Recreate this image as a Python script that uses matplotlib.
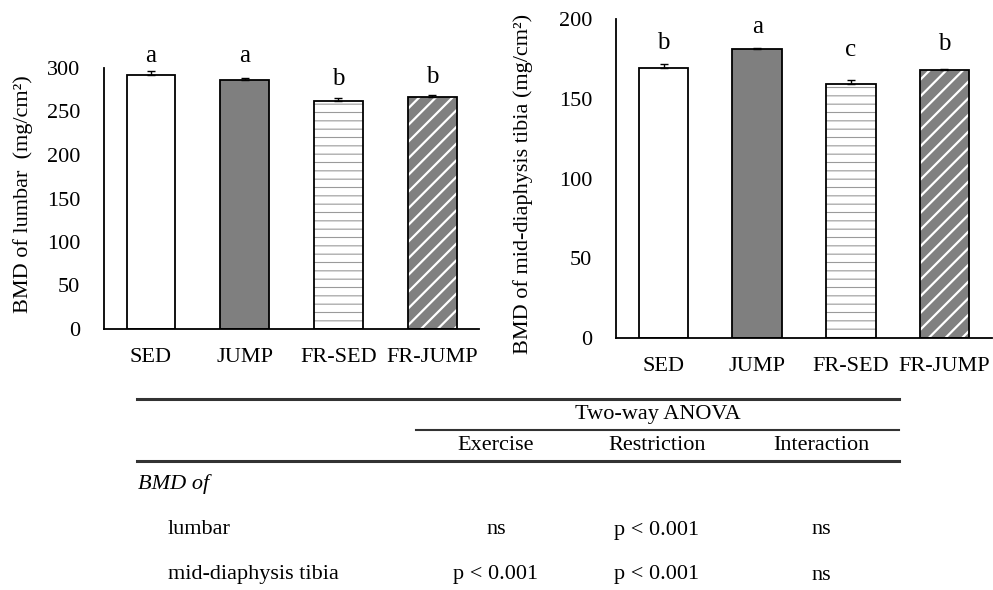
import matplotlib
matplotlib.use("Agg")
import matplotlib.pyplot as plt
from matplotlib.lines import Line2D

# ---------------- data ----------------
groups = ["SED", "JUMP", "FR-SED", "FR-JUMP"]

lumbar_mean = [292, 286, 262, 267]
lumbar_err = [4, 3, 4, 2]
lumbar_letters = ["a", "a", "b", "b"]
lumbar_letter_y = [307, 307, 280, 283]
lumbar_ticks = [0, 50, 100, 150, 200, 250, 300]

tibia_mean = [169, 181, 159, 168]
tibia_err = [2.5, 1, 3, 0.5]
tibia_letters = ["b", "a", "c", "b"]
tibia_letter_y = [181.5, 191, 177, 180.5]
tibia_ticks = [0, 50, 100, 150, 200]

table_title = "Two-way ANOVA"
table_cols = ["Exercise", "Restriction", "Interaction"]
table_group = "BMD of"
table_rows = ["lumbar", "mid-diaphysis tibia"]
table_lumbar = ["ns", "p < 0.001", "ns"]
table_tibia = ["p < 0.001", "p < 0.001", "ns"]

# ---------------- style ----------------
plt.rcParams['font.family'] = ['Liberation Serif', 'DejaVu Serif']
W, H = 993, 590
fig = plt.figure(figsize=(W / 100, H / 100), dpi=100)


def fx(px):
    return px / W


def fy(py):
    return 1 - py / H


FS = 16
face_styles = [
    dict(face="white", hatch=None, hcol=None, hlw=None),
    dict(face="#7f7f7f", hatch=None, hcol=None, hlw=None),
    dict(face="white", hatch="--", hcol="#9a9a9a", hlw=0.8),
    dict(face="#808080", hatch="//", hcol="white", hlw=1.6),
]


def draw_panel(ax, means, errs, letters, letter_y, ticks, ymax, width):
    x = list(range(len(groups)))
    for i in x:
        st = face_styles[i]
        if st["hatch"]:
            with plt.rc_context({'hatch.linewidth': st["hlw"]}):
                b = ax.bar(i, means[i], width=width, color=st["face"],
                           edgecolor=st["hcol"], hatch=st["hatch"],
                           linewidth=0, zorder=2)
                for p in b.patches:
                    if hasattr(p, "set_hatch_linewidth"):
                        p.set_hatch_linewidth(st["hlw"])
        else:
            ax.bar(i, means[i], width=width, color=st["face"], linewidth=0,
                   zorder=2)
        ax.bar(i, means[i], width=width, fill=False, edgecolor="black",
               linewidth=1.3, zorder=3)
    ax.errorbar(x, means, yerr=[[0] * len(errs), errs], fmt="none",
                ecolor="black", elinewidth=1.0, capsize=3, capthick=1.0,
                zorder=4)
    for i in x:
        ax.text(i, letter_y[i], letters[i], ha="center", va="baseline",
                fontsize=18, zorder=5)
    ax.set_xlim(-0.5, len(groups) - 0.5)
    ax.set_ylim(0, ymax)
    ax.set_yticks(ticks)
    ax.set_xticks(x)
    ax.set_xticklabels(groups)
    for s in ["top", "right"]:
        ax.spines[s].set_visible(False)
    for s in ["left", "bottom"]:
        ax.spines[s].set_linewidth(1.3)
    ax.tick_params(axis="both", length=0, labelsize=FS)
    ax.tick_params(axis="y", pad=17)
    ax.tick_params(axis="x", pad=14)
    ax.set_facecolor("none")


# left panel
ax1 = fig.add_axes([fx(104), fy(329), fx(479 - 104), (329 - 68) / H])
draw_panel(ax1, lumbar_mean, lumbar_err, lumbar_letters, lumbar_letter_y,
           lumbar_ticks, 300, 0.52)
fig.text(fx(23), fy(194), "BMD of lumbar  (mg/cm²)", rotation=90,
         ha="center", va="center", fontsize=FS)

# right panel
ax2 = fig.add_axes([fx(616), fy(338), fx(992 - 616), (338 - 19) / H])
draw_panel(ax2, tibia_mean, tibia_err, tibia_letters, tibia_letter_y,
           tibia_ticks, 200, 0.53)
ax2.set_xlim(-0.51, len(groups) - 0.49)
fig.text(fx(523), fy(184), "BMD of mid-diaphysis tibia (mg/cm²)", rotation=90,
         ha="center", va="center", fontsize=FS)

# ---------------- table ----------------
TFS = 16
lc = "#333333"
fig.add_artist(Line2D([fx(137), fx(899)], [fy(399), fy(399)], color=lc,
                      linewidth=2.2))
fig.add_artist(Line2D([fx(416), fx(899)], [fy(430), fy(430)], color=lc,
                      linewidth=1.5))
fig.add_artist(Line2D([fx(137), fx(899)], [fy(461), fy(461)], color=lc,
                      linewidth=2.2))

fig.text(fx(658), fy(415), table_title, ha="center", va="center",
         fontsize=TFS)
col_x = [496, 657, 821]
for cx, c in zip(col_x, table_cols):
    fig.text(fx(cx), fy(446), c, ha="center", va="center", fontsize=TFS)

fig.text(fx(138), fy(484), table_group, ha="left", va="center",
         fontsize=TFS, style="italic")
row_y = [530, 575]
for ry, name, vals in zip(row_y, table_rows, [table_lumbar, table_tibia]):
    fig.text(fx(168), fy(ry), name, ha="left", va="center", fontsize=TFS)
    for cx, v in zip(col_x, vals):
        fig.text(fx(cx), fy(ry), v, ha="center", va="center", fontsize=TFS)

fig.savefig("out.png", dpi=100)
